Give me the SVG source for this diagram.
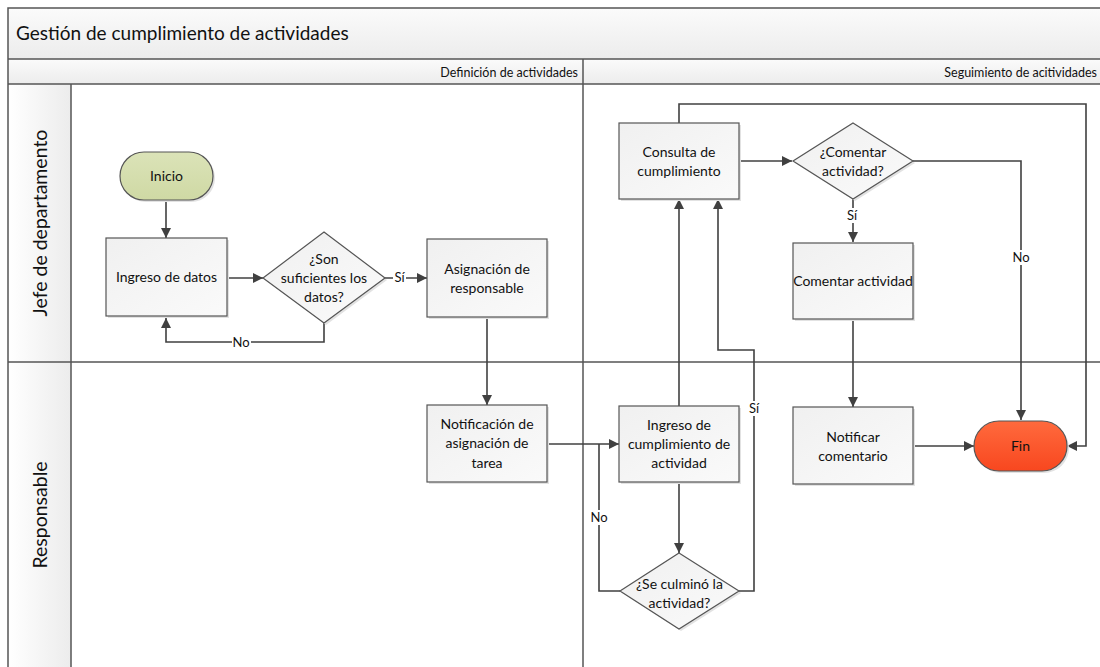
<svg xmlns="http://www.w3.org/2000/svg" width="1100" height="667" viewBox="0 0 1100 667">
  <defs>
    <linearGradient id="gBand" x1="0" y1="0" x2="0" y2="1">
      <stop offset="0" stop-color="#fbfbfb"/>
      <stop offset="1" stop-color="#ececec"/>
    </linearGradient>
    <linearGradient id="gLane" x1="0" y1="0" x2="1" y2="0">
      <stop offset="0" stop-color="#ffffff"/>
      <stop offset="1" stop-color="#ececec"/>
    </linearGradient>
    <linearGradient id="gBox" x1="0" y1="0" x2="1" y2="1">
      <stop offset="0" stop-color="#f0f0f0"/>
      <stop offset="1" stop-color="#fafafa"/>
    </linearGradient>
    <linearGradient id="gStart" x1="0" y1="0" x2="0" y2="1">
      <stop offset="0" stop-color="#dbe3b8"/>
      <stop offset="1" stop-color="#cfd9a4"/>
    </linearGradient>
    <linearGradient id="gEnd" x1="0" y1="0" x2="0" y2="1">
      <stop offset="0" stop-color="#ff6a3d"/>
      <stop offset="1" stop-color="#f8471f"/>
    </linearGradient>
    <marker id="arrow" viewBox="0 0 10 10" refX="10" refY="5" markerWidth="10" markerHeight="10" markerUnits="userSpaceOnUse" orient="auto">
      <path d="M0,0 L10,5 L0,10 z" fill="#404040"/>
    </marker>
  </defs>
  <style>
    text { font-family: Lato, "Liberation Sans", sans-serif; fill: #111; }
    .frame { fill: none; stroke: #555; stroke-width: 1.5; }
    .box { fill: url(#gBox); stroke: #555; stroke-width: 1.2; }
    .shadow { fill: #e2e2e2; }
    .lbl { font-size: 14px; text-anchor: middle; }
    .conn { fill: none; stroke: #404040; stroke-width: 1.6; }
    .arr { marker-end: url(#arrow); }
    .tag { font-size: 13px; text-anchor: middle; }
    .tagbg { fill: #ffffff; }
  </style>

  <rect x="0" y="0" width="1100" height="667" fill="#ffffff"/>

  <!-- pool frame, title band, phase header and lane labels -->
  <g id="pool">
    <rect x="8" y="8" width="1094" height="51" fill="url(#gBand)"/>
    <rect x="8" y="59" width="1094" height="25" fill="url(#gBand)"/>
    <rect x="8" y="84" width="63" height="590" fill="url(#gLane)"/>
    <path class="frame" d="M8,674 V8 H1102"/>
    <path class="frame" d="M8,59 H1102 M8,84 H1102 M71,84 V674 M8,362 H1102 M583,59 V674"/>
    <text x="16" y="40" font-size="19px">Gestión de cumplimiento de actividades</text>
    <text x="578" y="77" font-size="12.5px" text-anchor="end">Definición de actividades</text>
    <text x="1097" y="77" font-size="12.5px" text-anchor="end">Seguimiento de acitividades</text>
    <text transform="translate(47,223) rotate(-90)" font-size="19.5px" text-anchor="middle">Jefe de departamento</text>
    <text transform="translate(47,515) rotate(-90)" font-size="19.5px" text-anchor="middle">Responsable</text>
  </g>

  <!-- connectors -->
  <g id="connectors">
    <path class="conn arr" d="M166,200 V238"/>
    <path class="conn arr" d="M227,278 H263"/>
    <path class="conn arr" d="M324,323 V342 H166 V318"/>
    <path class="conn arr" d="M385,278 H427"/>
    <path class="conn arr" d="M487,317 V405"/>
    <path class="conn arr" d="M547,444 H619"/>
    <path class="conn" d="M620,591 H599 V444"/>
    <path class="conn arr" d="M679,482 V553"/>
    <path class="conn arr" d="M679,406 V199"/>
    <path class="conn arr" d="M739,591 H754 V350 H718 V199"/>
    <path class="conn arr" d="M739,161 H792"/>
    <path class="conn arr" d="M853,199 V242"/>
    <path class="conn arr" d="M913,161 H1021 V420"/>
    <path class="conn arr" d="M853,319 V407"/>
    <path class="conn arr" d="M913,446 H974"/>
    <path class="conn arr" d="M679,123 V104 H1086 V446 H1067"/>

    <rect class="tagbg" x="232" y="336" width="19" height="13"/>
    <text class="tag" x="241" y="347">No</text>
    <rect class="tagbg" x="393" y="271" width="13" height="13"/>
    <text class="tag" x="399.5" y="282">Sí</text>
    <rect class="tagbg" x="589" y="510" width="20" height="15"/>
    <text class="tag" x="599" y="522">No</text>
    <rect class="tagbg" x="747" y="401" width="14" height="15"/>
    <text class="tag" x="754" y="413">Sí</text>
    <rect class="tagbg" x="845" y="208" width="14" height="15"/>
    <text class="tag" x="852" y="220">Sí</text>
    <rect class="tagbg" x="1011" y="250" width="20" height="15"/>
    <text class="tag" x="1021" y="262">No</text>
  </g>

  <g id="inicio">
    <rect x="122" y="154" width="93" height="48" rx="24" class="shadow"/>
    <rect x="120" y="152" width="93" height="48" rx="24" fill="url(#gStart)" stroke="#555" stroke-width="1.2"/>
    <text class="lbl" x="166.5" y="181">Inicio</text>
  </g>

  <g id="ingreso-datos">
    <rect x="108" y="240" width="121" height="78" class="shadow"/>
    <rect x="106" y="238" width="121" height="78" class="box"/>
    <text class="lbl" x="166.5" y="282">Ingreso de datos</text>
  </g>

  <g id="son-suficientes">
    <polygon points="326,234 387,280 326,325 265,280" class="shadow"/>
    <polygon points="324,232 385,278 324,323 263,278" class="box"/>
    <text class="lbl" x="324" y="264">¿Son</text>
    <text class="lbl" x="324" y="283">suficientes los</text>
    <text class="lbl" x="324" y="302">datos?</text>
  </g>

  <g id="asignacion">
    <rect x="429" y="241" width="120" height="78" class="shadow"/>
    <rect x="427" y="239" width="120" height="78" class="box"/>
    <text class="lbl" x="487" y="274">Asignación de</text>
    <text class="lbl" x="487" y="293">responsable</text>
  </g>

  <g id="notificacion-asignacion">
    <rect x="429" y="407" width="120" height="77" class="shadow"/>
    <rect x="427" y="405" width="120" height="77" class="box"/>
    <text class="lbl" x="487" y="429">Notificación de</text>
    <text class="lbl" x="487" y="448">asignación de</text>
    <text class="lbl" x="487" y="468">tarea</text>
  </g>

  <g id="ingreso-cumplimiento">
    <rect x="621" y="408" width="120" height="76" class="shadow"/>
    <rect x="619" y="406" width="120" height="76" class="box"/>
    <text class="lbl" x="679" y="430">Ingreso de</text>
    <text class="lbl" x="679" y="449">cumplimiento de</text>
    <text class="lbl" x="679" y="468">actividad</text>
  </g>

  <g id="se-culmino">
    <polygon points="681,555 741,593 681,631 622,593" class="shadow"/>
    <polygon points="679,553 739,591 679,629 620,591" class="box"/>
    <text class="lbl" x="679.5" y="589">¿Se culminó la</text>
    <text class="lbl" x="679.5" y="608">actividad?</text>
  </g>

  <g id="consulta">
    <rect x="621" y="125" width="120" height="76" class="shadow"/>
    <rect x="619" y="123" width="120" height="76" class="box"/>
    <text class="lbl" x="679" y="157">Consulta de</text>
    <text class="lbl" x="679" y="176">cumplimiento</text>
  </g>

  <g id="comentar-decision">
    <polygon points="855,125 915,163 855,201 795,163" class="shadow"/>
    <polygon points="853,123 913,161 853,199 793,161" class="box"/>
    <text class="lbl" x="853" y="157">¿Comentar</text>
    <text class="lbl" x="853" y="176">actividad?</text>
  </g>

  <g id="comentar-actividad">
    <rect x="795" y="245" width="120" height="76" class="shadow"/>
    <rect x="793" y="243" width="120" height="76" class="box"/>
    <text class="lbl" x="853" y="286">Comentar actividad</text>
  </g>

  <g id="notificar-comentario">
    <rect x="795" y="409" width="120" height="77" class="shadow"/>
    <rect x="793" y="407" width="120" height="77" class="box"/>
    <text class="lbl" x="853" y="442">Notificar</text>
    <text class="lbl" x="853" y="461">comentario</text>
  </g>

  <g id="fin">
    <rect x="976" y="423" width="93" height="50" rx="25" class="shadow"/>
    <rect x="974" y="421" width="93" height="50" rx="25" fill="url(#gEnd)" stroke="#555" stroke-width="1.2"/>
    <text class="lbl" x="1020.5" y="451">Fin</text>
  </g>
</svg>
